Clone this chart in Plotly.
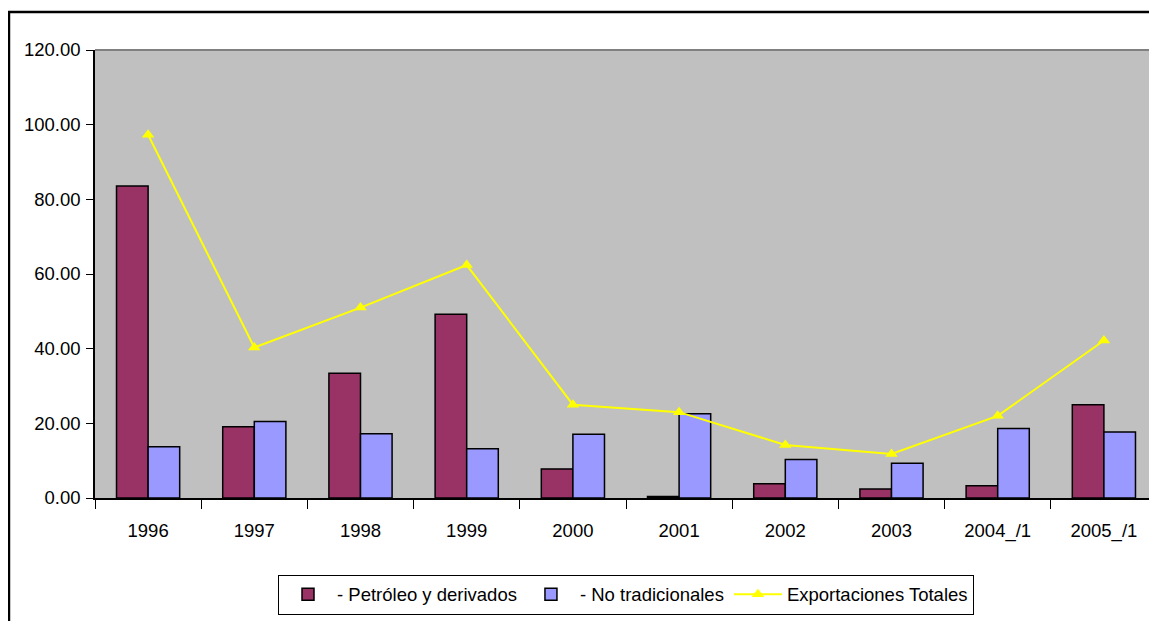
import plotly.graph_objects as go

categories = ["1996", "1997", "1998", "1999", "2000", "2001", "2002", "2003", "2004_/1", "2005_/1"]
petroleo = [83.6, 19.1, 33.4, 49.2, 7.8, 0.4, 3.8, 2.4, 3.3, 25.0]
no_tradicionales = [13.7, 20.5, 17.2, 13.2, 17.1, 22.6, 10.3, 9.3, 18.6, 17.7]
totales = [97.3, 40.3, 51.0, 62.4, 25.0, 23.0, 14.2, 11.8, 22.0, 42.2]
y_ticks = [0, 20, 40, 60, 80, 100, 120]

FONT = "Liberation Sans, Arial, sans-serif"
FS = 18.5

fig = go.Figure()
fig.add_trace(go.Bar(
    x=categories, y=petroleo, name="- Petróleo y derivados",
    marker=dict(color="#993366", line=dict(color="#000000", width=1.5)),
))
fig.add_trace(go.Bar(
    x=categories, y=no_tradicionales, name="- No tradicionales",
    marker=dict(color="#9999FF", line=dict(color="#000000", width=1.5)),
))
fig.add_trace(go.Scatter(
    x=categories, y=totales, name="Exportaciones Totales",
    mode="lines+markers",
    line=dict(color="#FFFF00", width=2),
    marker=dict(symbol="triangle-up", size=11, color="#FFFF00"),
))

fig.update_layout(
    width=1149, height=613,
    margin=dict(l=87, r=0, t=42, b=122.7, autoexpand=False),
    paper_bgcolor="#FFFFFF",
    plot_bgcolor="#C0C0C0",
    barmode="group",
    bargap=0.405,
    bargroupgap=0,
    font=dict(family=FONT, size=FS, color="#000000"),
    showlegend=True,
    legend=dict(
        orientation="h",
        x=0.5, xanchor="center",
        y=-0.171, yanchor="top",
        bordercolor="#000000", borderwidth=1,
        bgcolor="#FFFFFF",
        itemwidth=48,
        font=dict(family=FONT, size=FS, color="#000000"),
        traceorder="normal",
    ),
    xaxis=dict(
        type="category",
        range=[-0.5, len(categories) - 0.5],
        automargin=False,
        showgrid=False,
        showline=True, linecolor="#000000", linewidth=1.5,
        ticks="outside", tickson="boundaries", ticklen=9, tickcolor="#000000",
        tickfont=dict(family=FONT, size=FS, color="#000000"),
        ticklabelstandoff=15,
        zeroline=False,
    ),
    yaxis=dict(
        range=[0, 120],
        automargin=False,
        tickvals=y_ticks,
        tickformat=".2f",
        showgrid=False,
        showline=True, linecolor="#000000", linewidth=1.5,
        ticks="outside", ticklen=7, tickcolor="#000000",
        tickfont=dict(family=FONT, size=FS, color="#000000"),
        ticklabelstandoff=2,
        zeroline=False,
    ),
    shapes=[
        dict(type="line", xref="paper", yref="paper", x0=0, x1=1, y0=1, y1=1,
             line=dict(color="#808080", width=2), layer="above"),
        dict(type="rect", xref="paper", yref="paper",
             x0=-0.081, x1=1.2, y0=-0.5, y1=1.0848,
             line=dict(color="#000000", width=2.5), layer="above"),
    ],
)

fig.write_html("out.html")
